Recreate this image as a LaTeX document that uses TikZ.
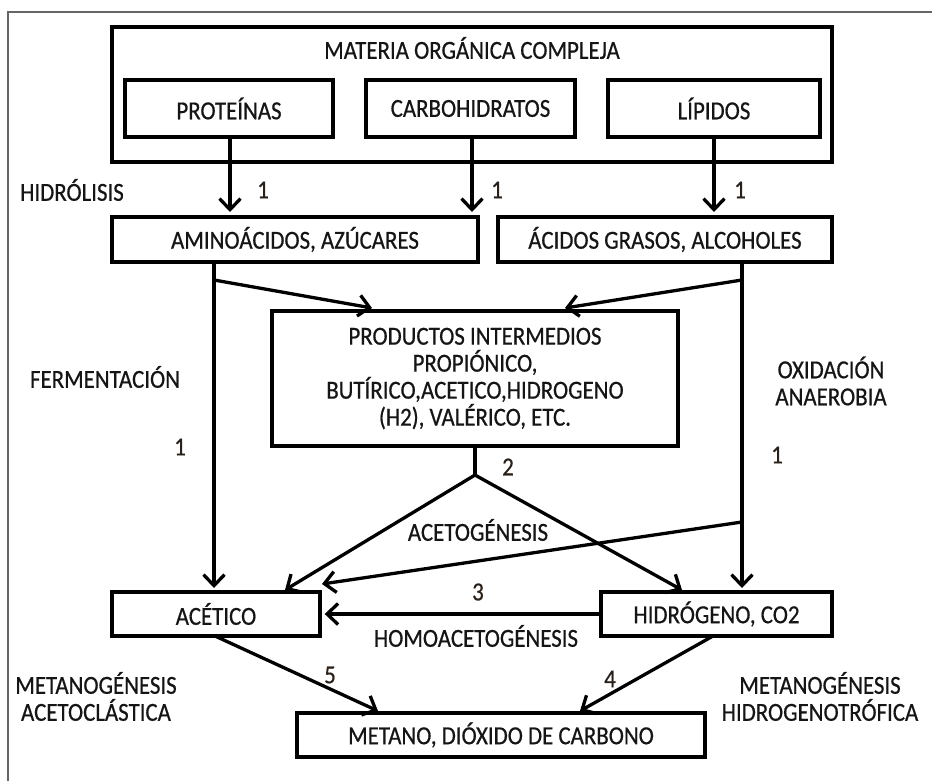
\documentclass[tikz,border=0pt]{standalone}
\usepackage{fontspec}
\setmainfont[FakeStretch=0.88,FakeBold=0.6]{Carlito}
\usetikzlibrary{arrows.meta}
\definecolor{txt}{HTML}{151515}
\definecolor{num}{HTML}{2A2018}
\begin{document}
\begin{tikzpicture}[x=1pt,y=-1pt,
  box/.style={draw=black,line width=3.4pt,inner sep=0pt,font=\fontsize{26}{27}\selectfont,text=txt},
  lbl/.style={font=\fontsize{26}{27}\selectfont,text=txt,inner sep=0pt},
  numl/.style={font=\fontsize{26}{27}\selectfont,text=num,inner sep=0pt},
  arr/.style={line width=3.3pt,-{Straight Barb[length=11pt,width=21pt,line width=3.3pt]}},
  ln/.style={line width=3.3pt}
]
\fill[white] (0,0) rectangle (932,780);
\useasboundingbox (0,0) rectangle (932,780);
\draw[black!60,line width=1.5pt] (8,790) -- (8,12) -- (940,12);

% boxes
\node[box,minimum width=720pt,minimum height=135pt] (mat) at (472,94.5) {};
\node[lbl] (mattit) at (472,48) {MATERIA ORGÁNICA COMPLEJA};
\node[box,minimum width=208pt,minimum height=57pt] (prot) at (229,108.5) {PROTEÍNAS};
\node[box,minimum width=209pt,minimum height=57pt] (carb) at (470.5,108.5) {CARBOHIDRATOS};
\node[box,minimum width=212pt,minimum height=57pt] (lip) at (714,108.5) {LÍPIDOS};
\node[box,minimum width=366pt,minimum height=45pt] (amino) at (295,239.5) {AMINOÁCIDOS, AZÚCARES};
\node[box,minimum width=334pt,minimum height=45pt] (acid) at (665,239.5) {ÁCIDOS GRASOS, ALCOHOLES};
\node[box,minimum width=406pt,minimum height=135pt,align=center] (prod) at (475,378.5)
  {PRODUCTOS INTERMEDIOS\\PROPIÓNICO,\\BUTÍRICO,ACETICO,HIDROGENO\\(H2), VALÉRICO, ETC.};
\node[box,minimum width=208pt,minimum height=44pt] (acet) at (216,614) {ACÉTICO};
\node[box,minimum width=231pt,minimum height=44pt] (hidr) at (716.5,614) {HIDRÓGENO, CO2};
\node[box,minimum width=408pt,minimum height=44pt] (met) at (501,735) {METANO, DIÓXIDO DE CARBONO};

% coordinates
\coordinate (p1) at (230,137);
\coordinate (p2) at (230,212);
\coordinate (c1) at (472,137);
\coordinate (c2) at (472,212);
\coordinate (l1) at (714,137);
\coordinate (l2) at (714,212);
\coordinate (aL) at (214,262);
\coordinate (aLm) at (214,280);
\coordinate (aLb) at (214,588);
\coordinate (aR) at (742,262);
\coordinate (aRm) at (742,280);
\coordinate (aRx) at (742,522);
\coordinate (aRb) at (742,588);
\coordinate (prL) at (372,308);
\coordinate (prR) at (565,308);
\coordinate (prB) at (475,446);
\coordinate (j) at (475,475);
\coordinate (acT) at (285,590);
\coordinate (acC) at (322,584);
\coordinate (hiT) at (682,590);
\coordinate (acB) at (215,636);
\coordinate (hiB) at (713,636);
\coordinate (meL) at (378,711);
\coordinate (meR) at (580,711);

% hydrolysis
\draw[arr] (p1) -- (p2);
\draw[arr] (c1) -- (c2);
\draw[arr] (l1) -- (l2);
% verticals
\draw[ln] (aL) -- (aLm);
\draw[arr] (aLm) -- (aLb);
\draw[ln] (aR) -- (aRm);
\draw[ln] (aRm) -- (aRx);
\draw[arr] (aRx) -- (aRb);
\draw[arr] (aLm) -- (prL);
\draw[arr] (aRm) -- (prR);
% acetogenesis
\draw[ln] (prB) -- (j);
\draw[arr] (j) -- (acT);
\draw[arr] (j) -- (hiT);
\draw[arr] (aRx) -- (acC);
% homoacetogenesis
\draw[arr] (hidr.west) -- ([xshift=3pt]acet.east);
% methanogenesis
\draw[arr] (acB) -- (meL);
\draw[arr] (hiB) -- (meR);

% labels
\node[lbl] (hidrol) at (72,190) {HIDRÓLISIS};
\node[numl] (n1a) at (263,190) {1};
\node[numl] (n1b) at (497,190) {1};
\node[numl] (n1c) at (740,190) {1};
\node[lbl] (ferm) at (105,377) {FERMENTACIÓN};
\node[numl] (n1d) at (180,447) {1};
\node[lbl,align=center] (oxid) at (831,381) {OXIDACIÓN\\ANAEROBIA};
\node[numl] (n1e) at (777,455) {1};
\node[numl] (n2) at (508,467) {2};
\node[lbl] (acetog) at (478,530) {ACETOGÉNESIS};
\node[numl] (n3) at (478,592) {3};
\node[lbl] (homo) at (476,636) {HOMOACETOGÉNESIS};
\node[lbl,align=center] (metL) at (96,696.5) {METANOGÉNESIS\\ACETOCLÁSTICA};
\node[numl] (n5) at (330,675) {5};
\node[numl] (n4) at (610,679) {4};
\node[lbl,align=center] (metR) at (820,696.5) {METANOGÉNESIS\\HIDROGENOTRÓFICA};
\end{tikzpicture}
\end{document}
